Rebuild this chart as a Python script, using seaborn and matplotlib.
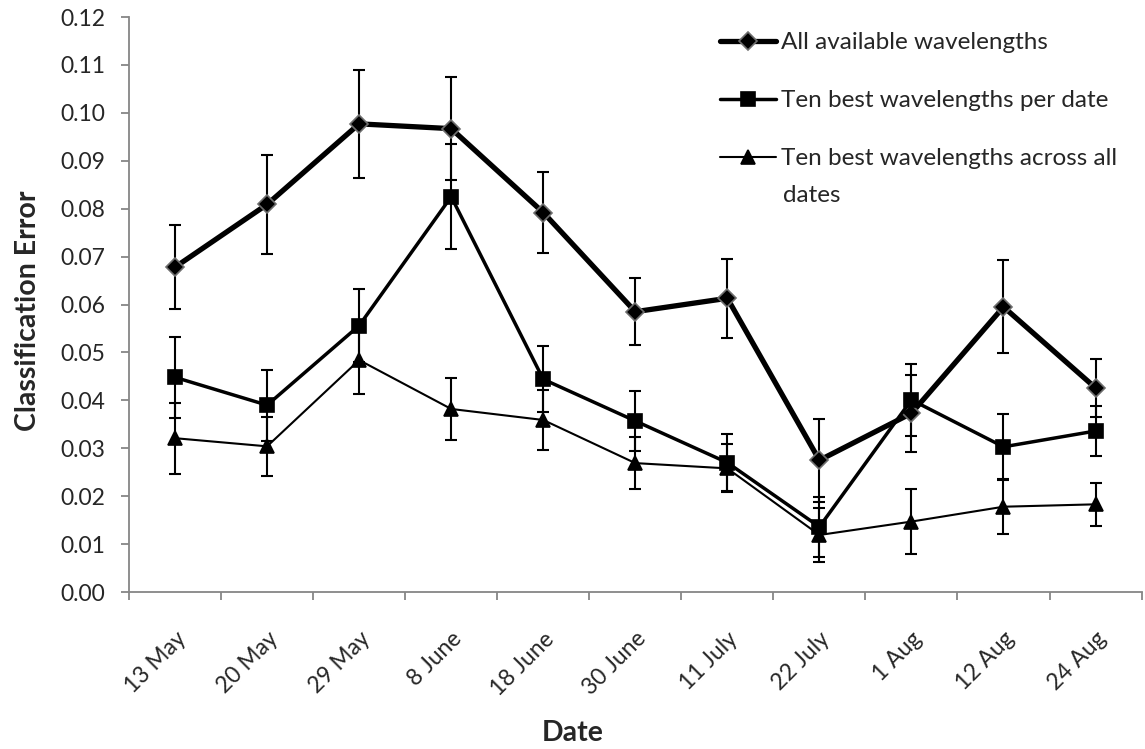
import numpy as np
import pandas as pd
import matplotlib
matplotlib.use("Agg")
import matplotlib.pyplot as plt
import matplotlib.transforms as mtransforms
from matplotlib.ticker import FixedLocator, FormatStrFormatter
import seaborn as sns

dates = ["13 May", "20 May", "29 May", "8 June", "18 June", "30 June",
         "11 July", "22 July", "1 Aug", "12 Aug", "24 Aug"]

all_wl = [0.0678, 0.0809, 0.0977, 0.0967, 0.0792, 0.0585, 0.0613, 0.0275, 0.0373, 0.0595, 0.0426]
all_wl_err = [0.0088, 0.0103, 0.0113, 0.0107, 0.0084, 0.0070, 0.0083, 0.0087, 0.0080, 0.0097, 0.0061]

best_per_date = [0.0448, 0.0390, 0.0556, 0.0825, 0.0444, 0.0357, 0.0270, 0.0136, 0.0401, 0.0303, 0.0336]
best_per_date_err = [0.0085, 0.0074, 0.0076, 0.0109, 0.0069, 0.0062, 0.0060, 0.0062, 0.0075, 0.0069, 0.0052]

best_all_dates = [0.0321, 0.0304, 0.0484, 0.0382, 0.0359, 0.0269, 0.0258, 0.0119, 0.0147, 0.0178, 0.0183]
best_all_dates_err = [0.0074, 0.0061, 0.0071, 0.0065, 0.0063, 0.0055, 0.0050, 0.0057, 0.0068, 0.0057, 0.0045]

series_names = ["All available wavelengths",
                "Ten best wavelengths per date",
                "Ten best wavelengths across all"]
wrapped_tail = "dates"  # second line of the last legend label

sns.set_style("white")
plt.rcParams['font.family'] = ['Lato', 'DejaVu Sans']

fig = plt.figure(figsize=(11.45, 7.49), dpi=100)
ax = fig.add_axes([0.1127, 0.2096, 0.8843, 0.7677])

x = np.arange(len(dates))
styles = [
    # (values, errors, marker, markersize, linewidth, marker edge)
    (all_wl, all_wl_err, "D", 9, 3.8, "#6e6e6e"),
    (best_per_date, best_per_date_err, "s", 10, 2.5, "black"),
    (best_all_dates, best_all_dates_err, "^", 10, 1.5, "black"),
]

handles = []
for name, (vals, errs, mk, ms, lw, mec) in zip(series_names, styles):
    df = pd.DataFrame({"x": x, "y": vals})
    ax.errorbar(x, vals, yerr=errs, fmt="none", ecolor="black",
                elinewidth=1.5, capsize=4.5, capthick=1.5, zorder=2)
    sns.lineplot(data=df, x="x", y="y", ax=ax, color="black", linewidth=lw,
                 marker=mk, markersize=ms, markeredgecolor=mec,
                 markeredgewidth=1.2, markerfacecolor="black", zorder=3)
    handles.append(ax.lines[-1])

ax.set_xlim(-0.5, len(dates) - 0.5)
ax.set_ylim(0, 0.12)
ax.yaxis.set_major_locator(FixedLocator(np.arange(0, 0.1201, 0.01)))
ax.yaxis.set_major_formatter(FormatStrFormatter("%.2f"))

# category boundaries get the tick marks, labels sit at the centres
ax.xaxis.set_major_locator(FixedLocator(np.arange(-0.5, len(dates), 1.0)))
ax.xaxis.set_minor_locator(FixedLocator(x))
ax.set_xticklabels([])
ax.set_xticklabels(dates, minor=True, rotation=45, ha="right",
                   rotation_mode="anchor")
shift = mtransforms.ScaledTranslation(-6 / 100, 0, fig.dpi_scale_trans)
for lab in ax.get_xticklabels(minor=True):
    lab.set_transform(lab.get_transform() + shift)

ax.tick_params(axis="x", which="major", direction="out", length=6,
               width=1.3, color="#868686", bottom=True)
ax.tick_params(axis="x", which="minor", length=0, labelsize=16.5, pad=26)
ax.tick_params(axis="y", direction="out", length=6, width=1.3,
               color="#868686", left=True, labelsize=16.5, pad=11)

for side in ["top", "right"]:
    ax.spines[side].set_visible(False)
for side in ["left", "bottom"]:
    ax.spines[side].set_color("#868686")
    ax.spines[side].set_linewidth(1.3)

ax.set_xlabel("Date", fontsize=20.5, fontweight="bold", labelpad=15)
ax.xaxis.label.set_x(0.438)
ax.set_ylabel("Classification Error", fontsize=20.5, fontweight="bold", labelpad=14)
ax.yaxis.label.set_y(0.489)

leg = ax.legend(handles, series_names, loc="upper left",
                bbox_to_anchor=(720 / 1145, 1 - 32 / 749),
                bbox_transform=fig.transFigure, borderpad=0, borderaxespad=0,
                frameon=False, fontsize=17.5, handlelength=2.3,
                handletextpad=0.2, labelspacing=1.53)
fig.text(783 / 1145, 1 - 195 / 749, wrapped_tail, fontsize=17.5,
         ha="left", va="center")

fig.savefig("out.png", dpi=100)
